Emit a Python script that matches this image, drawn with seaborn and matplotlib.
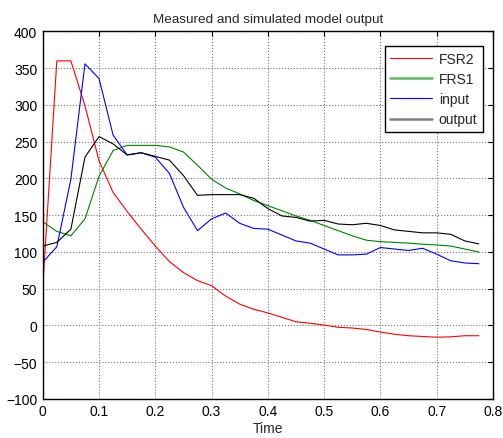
import numpy as np
import pandas as pd
import matplotlib
matplotlib.use("Agg")
import matplotlib.pyplot as plt
from matplotlib.lines import Line2D
import seaborn as sns

# Sample times (s)
time = [0.0, 0.025, 0.05, 0.075, 0.1, 0.125, 0.15, 0.175, 0.2, 0.225,
        0.25, 0.275, 0.3, 0.325, 0.35, 0.375, 0.4, 0.425, 0.45, 0.475,
        0.5, 0.525, 0.55, 0.575, 0.6, 0.625, 0.65, 0.675, 0.7, 0.725,
        0.75, 0.775]

fsr2 = [52, 360, 360, 299, 224, 181, 155, 131, 108, 87,
        72, 61, 54, 40, 29, 22, 17, 11, 5, 3,
        0.5, -2.5, -3.5, -5.5, -9, -12, -14, -15, -16, -15.5,
        -14, -14]

frs1 = [141, 128, 122, 145, 203, 238, 245, 245, 245, 243,
        236, 218, 199, 187, 179, 170, 163, 156, 149, 143,
        136, 129, 122, 116, 114, 113, 112, 110.5, 109.5, 108,
        104, 100]

inp = [86, 107, 199, 356, 336, 259, 232, 235, 229, 207,
       161, 129, 145, 153, 139, 132, 131, 123, 115, 112,
       104, 96, 96, 97, 106, 104, 102, 105, 97, 88,
       85, 84]

outp = [108, 113, 131, 229, 257, 247, 232, 235, 230, 225,
        204, 177, 178, 178, 178, 173, 159, 149, 147, 142,
        143, 138, 137, 139, 136, 130, 128, 126, 126, 124,
        115, 111]

series_names = ["FSR2", "FRS1", "input", "output"]
series_colors = ["#ff0000", "#008000", "#0000ff", "#000000"]

df = pd.DataFrame({
    "Time": time * 4,
    "value": fsr2 + frs1 + inp + outp,
    "series": sum([[n] * len(time) for n in series_names], []),
})

sns.set_theme(style="white")
plt.rcParams["font.family"] = ["Liberation Sans", "DejaVu Sans"]

fig = plt.figure(figsize=(5.03, 4.39), dpi=100)
ax = fig.add_axes([0.085, 0.089, 0.895, 0.837])

sns.lineplot(data=df, x="Time", y="value", hue="series",
             palette=dict(zip(series_names, series_colors)),
             linewidth=0.8, legend=False, ax=ax, sort=False)

ax.set_xlim(0, 0.8)
ax.set_ylim(-100, 400)
ax.set_xticks(np.arange(0, 0.81, 0.1))
ax.set_xticklabels(["0", "0.1", "0.2", "0.3", "0.4", "0.5", "0.6", "0.7", "0.8"])
ax.set_yticks(np.arange(-100, 401, 50))
ax.tick_params(direction="in", length=3.5, width=0.8, top=True, right=True,
               labelsize=10, colors="black", pad=4)
ax.grid(True, linestyle=":", color="0.45", linewidth=0.8)
for s in ax.spines.values():
    s.set_color("black")
    s.set_linewidth(1.0)

ax.set_xlabel("Time", fontsize=10, labelpad=2)
ax.set_ylabel("")
ax.set_title("Measured and simulated model output", fontsize=9.7, pad=7)

handles = [
    Line2D([], [], color="#ff0000", lw=0.8),
    Line2D([], [], color="#60b860", lw=1.8),
    Line2D([], [], color="#0000ff", lw=0.8),
    Line2D([], [], color="#808080", lw=1.8),
]
leg = ax.legend(handles, series_names, loc="upper right",
                bbox_to_anchor=(0.978, 0.960), fontsize=10, frameon=True,
                fancybox=False, framealpha=1, edgecolor="black",
                borderpad=0.4, handlelength=3.0, handletextpad=0.5,
                labelspacing=0.45, borderaxespad=0.0)
leg.get_frame().set_linewidth(1.0)

fig.savefig("out.png", dpi=100, facecolor="white")
